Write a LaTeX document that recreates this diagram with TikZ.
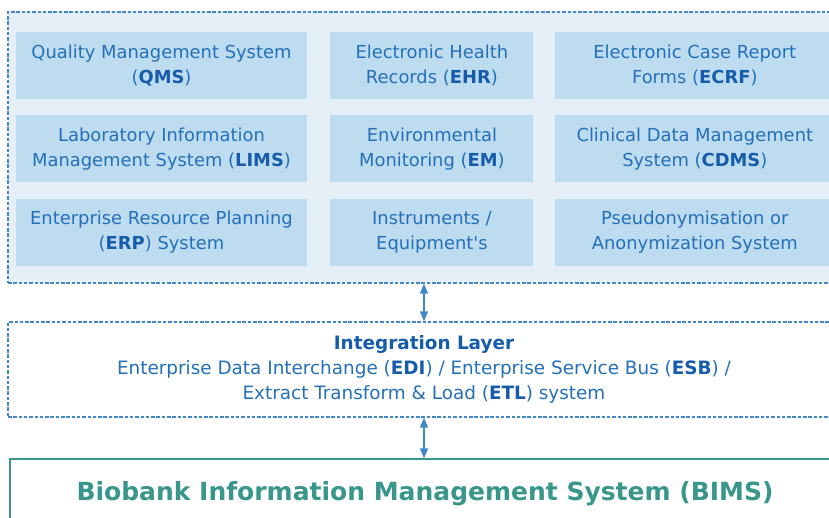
\documentclass[tikz,border=0pt]{standalone}
\usepackage{fontspec}
\setmainfont{DejaVu Sans}
\usetikzlibrary{arrows,positioning}
\usepackage{xcolor}
\definecolor{boxblue}{RGB}{190,220,239}
\definecolor{paleblue}{RGB}{229,239,247}
\definecolor{lineblue}{RGB}{66,136,200}
\definecolor{textblue}{RGB}{36,112,184}
\definecolor{acrblue}{RGB}{22,92,170}
\definecolor{bimsgreen}{RGB}{56,150,138}
\newcommand{\acr}[1]{\textbf{\color{acrblue}#1}}

\tikzset{
  sysbox/.style={fill=boxblue, text=textblue, align=center, inner sep=0pt,
                 minimum height=67pt, font=\fontsize{17.9}{25}\selectfont},
  dashlayer/.style={draw=lineblue, line width=1.4pt, dash pattern=on 3.5pt off 1.8pt},
  link/.style={draw=lineblue, line width=1.3pt, arrows=triangle 45-triangle 45}
}

\begin{document}
\begin{tikzpicture}[x=1pt, y=-1pt]
  \clip (0,0) rectangle (829,518);
  % Outer frame of the connected systems
  \node(apps)[dashlayer, fill=paleblue, minimum width=835pt, minimum height=271pt] at (425.5,147.5) {};
  % First row
  \node(qms)[sysbox, minimum width=291pt] at (161.5,65.5) {Quality Management System\\(\acr{QMS})};
  \node[right=23pt of qms] (ehr)[sysbox, minimum width=203pt] {Electronic Health\\Records (\acr{EHR})};
  \node[right=21pt of ehr] (ecrf)[sysbox, minimum width=280pt] {Electronic Case Report\\Forms (\acr{ECRF})};
  % Second row
  \node[below=16pt of qms] (lims)[sysbox, minimum width=291pt] {Laboratory Information\\Management System (\acr{LIMS})};
  \node[below=16pt of ehr] (em)[sysbox, minimum width=203pt] {Environmental\\Monitoring (\acr{EM})};
  \node[below=16pt of ecrf] (cdms)[sysbox, minimum width=280pt] {Clinical Data Management\\System (\acr{CDMS})};
  % Third row
  \node[below=16pt of lims] (erp)[sysbox, minimum width=291pt] {Enterprise Resource Planning\\(\acr{ERP}) System};
  \node[below=16pt of em] (instr)[sysbox, minimum width=203pt] {Instruments /\\Equipment\textquotesingle s};
  \node[below=16pt of cdms] (pseudo)[sysbox, minimum width=280pt] {Pseudonymisation or\\Anonymization System};
  % Integration layer
  \node(integ)[dashlayer, fill=white, text=textblue, align=center, minimum width=832pt, minimum height=95pt,
               font=\fontsize{18.4}{25}\selectfont] at (424,369.5)
       {\acr{Integration Layer}\\Enterprise Data Interchange (\acr{EDI}) / Enterprise Service Bus (\acr{ESB}) /\\Extract Transform \& Load (\acr{ETL}) system};
  % BIMS
  \node(bims)[draw=bimsgreen, line width=1.5pt, text=bimsgreen, minimum width=830pt, minimum height=70pt,
              font=\fontsize{25}{28}\selectfont\bfseries] at (425,494) {Biobank Information Management System (BIMS)};
  % Arrows
  \draw[link] (integ.north -| 424,0) -- (apps.south -| 424,0);
  \draw[link] (bims.north -| 424,0) -- (integ.south -| 424,0);
\end{tikzpicture}
\end{document}
